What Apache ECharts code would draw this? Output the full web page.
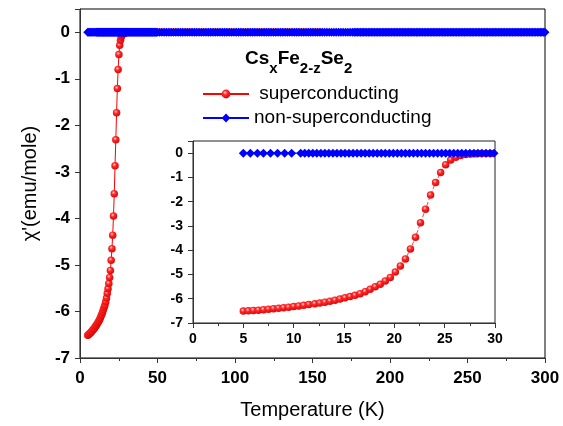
<!DOCTYPE html>
<html>
<head>
<meta charset="utf-8">
<script src="https://cdn.jsdelivr.net/npm/echarts@6/dist/echarts.min.js"></script>
<style>html,body{margin:0;padding:0;background:#fff}#c{width:563px;height:426px}</style>
</head>
<body>
<div id="c"></div>
<script>
// ---- data ----
const xTicksMain = [0, 50, 100, 150, 200, 250, 300];
const yTicks = [0, -1, -2, -3, -4, -5, -6, -7];
const xTicksInset = [0, 5, 10, 15, 20, 25, 30];

// superconducting sample: temperature (K) and chi'
const redT = [5.0,5.5,6.0,6.5,7.0,7.5,8.0,8.5,9.0,9.5,10.0,10.5,11.0,11.5,12.1,12.6,13.1,13.6,14.1,14.6,15.1,15.6,16.1,16.6,17.1,17.6,18.1,18.6,19.1,19.6,20.1,20.6,21.1,21.6,22.1,22.6,23.1,23.6,24.1,24.6,25.1,25.6,26.1,26.6,27.1,27.6,28.1,28.6,29.1,29.6];
const redChi = [-6.51,-6.50,-6.48,-6.47,-6.45,-6.43,-6.41,-6.39,-6.37,-6.35,-6.32,-6.30,-6.27,-6.24,-6.21,-6.18,-6.14,-6.10,-6.06,-6.01,-5.96,-5.91,-5.86,-5.79,-5.71,-5.61,-5.51,-5.40,-5.27,-5.12,-4.90,-4.65,-4.36,-3.95,-3.47,-2.87,-2.31,-1.73,-1.21,-0.80,-0.48,-0.28,-0.17,-0.10,-0.06,-0.04,-0.03,-0.02,-0.01,-0.01];
// superconducting sample above Tc (chi' = 0), hidden under the blue band
const redTailT = [31,33,35,37,39,41,43,45,47,49,51,53,55,57,59,61,63,65,67,69,71,73,75,77,79,81,83,85,87,89,91,93,95,97,99,101,103,105,107,109,111,113,115,117,119,121,123,125,127,129,131,133,135,137,139,141,143,145,147,149,151,153,155];
const redTailChi = 0;

// non-superconducting sample: temperatures (K), chi' = 0 everywhere
const blueT = [5.0,5.7,6.4,7.0,7.7,8.4,9.1,9.8,
10.7,11.1,11.5,11.9,12.3,12.7,13.1,13.5,13.9,14.3,14.7,15.1,15.5,15.9,16.3,16.7,17.1,17.5,17.9,18.3,18.7,19.1,19.5,19.9,20.3,20.7,21.1,21.5,21.9,22.3,22.7,23.1,23.5,23.9,24.3,24.7,25.1,25.5,25.9,26.3,26.7,27.1,27.5,27.9,28.3,28.7,29.1,29.5,29.9,30.3,
30.8,31.3,31.8,32.3,32.8,33.3,33.8,34.3,34.8,35.3,35.8,36.3,36.8,37.3,37.8,38.3,38.8,39.3,39.8,40.3,40.8,41.3,41.8,42.3,42.8,43.3,43.8,44.3,44.8,45.3,45.8,46.3,46.8,47.3,47.8,48.3,48.8,49.3,49.8,
51.3,52.8,54.3,55.8,57.3,58.8,60.3,61.8,63.3,64.8,66.3,67.8,69.3,70.8,72.3,73.8,75.3,76.8,78.3,79.8,81.3,82.8,84.3,85.8,87.3,88.8,90.3,91.8,93.3,94.8,96.3,97.8,99.3,100.8,102.3,103.8,105.3,106.8,108.3,109.8,111.3,112.8,114.3,115.8,117.3,118.8,120.3,121.8,123.3,124.8,126.3,127.8,129.3,130.8,132.3,133.8,135.3,136.8,138.3,139.8,141.3,142.8,144.3,145.8,147.3,148.8,150.3,151.8,153.3,154.8,156.3,157.8,159.3,160.8,162.3,163.8,165.3,166.8,168.3,169.8,171.3,172.8,174.3,175.8,
177,178,179,180,181,182,183,184,185,186,187,188,189,190,191,192,193,194,195,196,197,198,199,200,201,202,203,204,205,206,207,208,209,210,211,212,213,214,215,216,217,218,219,220,221,222,223,224,225,226,227,228,229,230,231,232,233,234,235,236,237,238,239,240,241,242,243,244,245,246,247,248,249,250,251,252,253,254,255,256,257,258,259,260,261,262,263,264,265,266,267,268,269,270,271,272,273,274,275,276,277,278,279,280,281,282,283,284,285,286,287,288,289,290,291,292,293,294,295,296,297,298,299,300];
const blueChi = 0;

const seriesNames = ['superconducting', 'non-superconducting'];
// ---- end data ----

const FONT = '"Liberation Sans", Arial, sans-serif';
const redPts = redT.map((t, i) => [t, redChi[i]]).concat(redTailT.map(t => [t, redTailChi]));
const bluePts = blueT.map(t => [t, blueChi]);

const redGrad = {type: 'radial', x: 0.4, y: 0.35, r: 0.7, colorStops: [
  {offset: 0, color: '#ffd8d8'}, {offset: 0.35, color: '#ff2a2a'}, {offset: 1, color: '#dd0000'}]};

const labelFmt = v => (Number.isInteger(v) ? String(v) : '');

function xAxis(grid, max, interval, fontSize, margin, tickLen) {
  return {
    type: 'value', gridIndex: grid, min: 0, max: max, interval: interval,
    axisLine: {show: true, onZero: false, lineStyle: {color: '#333', width: 1}},
    axisTick: {show: true, length: tickLen, lineStyle: {color: '#333'}},
    minorTick: {show: true, splitNumber: 2, length: 3, lineStyle: {color: '#333'}},
    splitLine: {show: false},
    axisLabel: {color: '#000', fontFamily: FONT, fontWeight: 'bold', fontSize: fontSize, margin: margin, formatter: labelFmt}
  };
}
function yAxis(grid, fontSize, margin, tickLen) {
  return {
    type: 'value', gridIndex: grid, min: -7, max: 0.5, interval: 1,
    axisLine: {show: true, onZero: false, lineStyle: {color: '#333', width: 1}},
    axisTick: {show: true, length: tickLen, lineStyle: {color: '#333'}},
    splitLine: {show: false},
    axisLabel: {color: '#000', fontFamily: FONT, fontWeight: 'bold', fontSize: fontSize, margin: margin, formatter: labelFmt}
  };
}

const mainX = xAxis(0, 300, 50, 17, 12, 5);
mainX.name = 'Temperature (K)';
mainX.nameLocation = 'middle';
mainX.nameGap = 42;
mainX.nameTextStyle = {fontFamily: FONT, fontSize: 20, color: '#000'};
const mainY = yAxis(0, 17, 10, 5);
mainY.name = "\u03c7'(emu/mole)";
mainY.nameLocation = 'middle';
mainY.nameRotate = 90;
mainY.nameGap = 40;
mainY.nameTextStyle = {fontFamily: FONT, fontSize: 20, color: '#000'};

const chart = echarts.init(document.getElementById('c'), null, {renderer: 'canvas'});
chart.setOption({
  animation: false,
  backgroundColor: '#fff',
  title: {
    left: 245, top: 49, padding: 0,
    text: '{a|Cs}{s|x}{a|Fe}{s|2-z}{a|Se}{s|2}{h| }',
    textStyle: {
      rich: {
        a: {fontFamily: FONT, fontWeight: 'bold', fontSize: 19, color: '#000', lineHeight: 20, verticalAlign: 'top'},
        s: {fontFamily: FONT, fontWeight: 'bold', fontSize: 15, color: '#000', lineHeight: 16, verticalAlign: 'bottom'},
        h: {fontSize: 10, lineHeight: 27, verticalAlign: 'top'}
      }
    }
  },
  legend: {
    orient: 'vertical', left: 202, top: 84, padding: 0,
    itemWidth: 46, itemHeight: 11, itemGap: 4,
    data: seriesNames,
    formatter: n => (n === 'superconducting' ? ' ' + n : n),
    textStyle: {fontFamily: FONT, fontSize: 19, color: '#000', lineHeight: 20}
  },
  grid: [
    {left: 80, top: 9, width: 465, height: 349, show: true, borderColor: '#000', borderWidth: 1, containLabel: false},
    {left: 193, top: 141, width: 302, height: 182, show: true, borderColor: '#222', borderWidth: 1, containLabel: false}
  ],
  xAxis: [mainX, xAxis(1, 30, 5, 14, 9, 5)],
  yAxis: [mainY, yAxis(1, 14, 10, 5)],
  series: [
    {name: seriesNames[0], type: 'line', xAxisIndex: 0, yAxisIndex: 0, data: redPts, z: 2,
     symbol: 'circle', symbolSize: 7.5, showAllSymbol: true,
     itemStyle: {color: redGrad}, lineStyle: {color: '#ff0000', width: 1}},
    {name: seriesNames[1], type: 'line', xAxisIndex: 0, yAxisIndex: 0, data: bluePts, z: 3,
     symbol: 'diamond', symbolSize: [9, 9], showAllSymbol: true,
     itemStyle: {color: '#0000ff'}, lineStyle: {color: '#0000ff', width: 1}},
    {name: seriesNames[0], type: 'line', xAxisIndex: 1, yAxisIndex: 1, data: redPts, z: 2,
     symbol: 'circle', symbolSize: 7.5, showAllSymbol: true,
     itemStyle: {color: redGrad}, lineStyle: {color: '#ff4040', width: 1, type: 'dashed'}},
    {name: seriesNames[1], type: 'line', xAxisIndex: 1, yAxisIndex: 1, data: bluePts, z: 3,
     symbol: 'diamond', symbolSize: [9, 9], showAllSymbol: true,
     itemStyle: {color: '#0000ff'}, lineStyle: {color: '#0000ff', width: 1}}
  ]
});
</script>
</body>
</html>
